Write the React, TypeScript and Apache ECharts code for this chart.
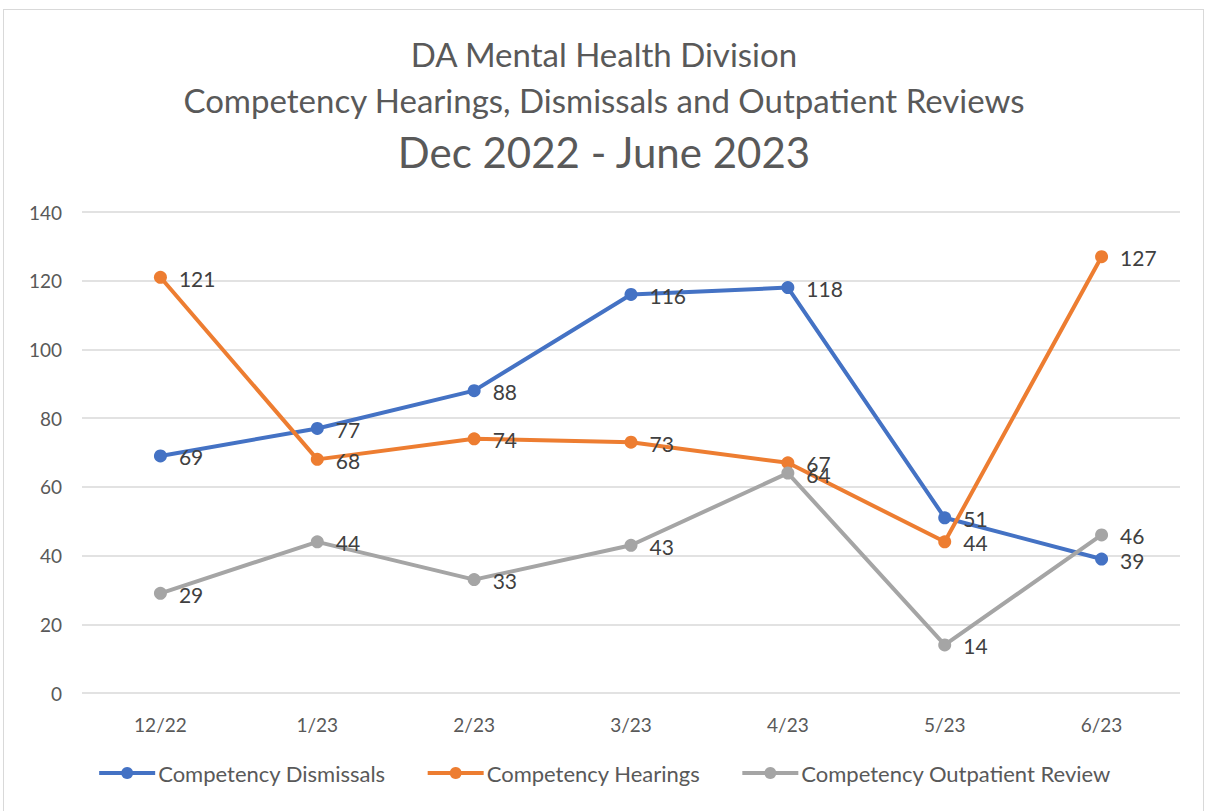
import React, { useEffect, useRef } from "react";
import * as echarts from "echarts";

const categories = ["12/22", "1/23", "2/23", "3/23", "4/23", "5/23", "6/23"];
const dismissals = [69, 77, 88, 116, 118, 51, 39];
const hearings = [121, 68, 74, 73, 67, 44, 127];
const outpatient = [29, 44, 33, 43, 64, 14, 46];
const titleLines = [
  "DA Mental Health Division",
  "Competency Hearings, Dismissals and Outpatient Reviews",
  "Dec 2022 - June 2023",
];

const FONT = "Lato, 'Open Sans', sans-serif";

export default function App() {
  const ref = useRef<HTMLDivElement>(null);
  useEffect(() => {
    if (!ref.current) return;
    const chart = echarts.init(ref.current, undefined, { renderer: "svg" });
    const mk = (name: string, data: number[], color: string) => ({
      name,
      type: "line",
      data,
      symbol: "circle",
      symbolSize: 13,
      itemStyle: { color },
      lineStyle: { color, width: 4 },
      label: {
        show: true,
        position: "right",
        distance: 12,
        color: "#404040",
        fontSize: 21,
        fontFamily: FONT,
        offset: [0, 1],
      },
      z: 3,
    });
    chart.setOption({
      animation: false,
      textStyle: { fontFamily: FONT },
      title: [
        {
          text: titleLines[0],
          left: "center",
          top: 32,
          textStyle: { fontSize: 33, fontWeight: "normal", color: "#595959", fontFamily: FONT },
        },
        {
          text: titleLines[1],
          left: "center",
          top: 78,
          textStyle: { fontSize: 33, fontWeight: "normal", color: "#595959", fontFamily: FONT },
        },
        {
          text: titleLines[2],
          left: "center",
          top: 126,
          textStyle: { fontSize: 42, fontWeight: "normal", color: "#595959", fontFamily: FONT },
        },
      ],
      grid: { left: 82, right: 28, top: 212, bottom: 118, containLabel: false },
      xAxis: {
        type: "category",
        data: categories,
        boundaryGap: true,
        axisLine: { show: false },
        axisTick: { show: false },
        axisLabel: { color: "#595959", fontSize: 19, margin: 22, fontFamily: FONT },
      },
      yAxis: {
        type: "value",
        min: 0,
        max: 140,
        interval: 20,
        axisLine: { show: false },
        axisTick: { show: false },
        axisLabel: { color: "#595959", fontSize: 19, margin: 20, fontFamily: FONT },
        splitLine: { lineStyle: { color: "#D9D9D9", width: 1.5 } },
      },
      legend: {
        bottom: 22,
        left: "center",
        itemWidth: 56,
        itemHeight: 15,
        itemGap: 40,
        lineStyle: { width: 4 },
        textStyle: { color: "#595959", fontSize: 22, fontFamily: FONT, padding: [0, 0, 0, -2] },
        data: ["Competency Dismissals", "Competency Hearings", "Competency Outpatient Review"],
      },
      series: [
        mk("Competency Dismissals", dismissals, "#4472C4"),
        mk("Competency Hearings", hearings, "#ED7D31"),
        mk("Competency Outpatient Review", outpatient, "#A5A5A5"),
      ],
    });
    return () => chart.dispose();
  }, []);
  return (
    <div
      style={{
        position: "absolute",
        left: 0,
        top: 0,
        width: 1208,
        height: 811,
        background: "#fff",
      }}
    >
      <div
        style={{
          position: "absolute",
          left: 3,
          top: 9,
          width: 1201,
          height: 810,
          border: "1px solid #D9D9D9",
          boxSizing: "border-box",
        }}
      />
      <div ref={ref} style={{ position: "absolute", left: 0, top: 0, width: 1208, height: 811 }} />
    </div>
  );
}
